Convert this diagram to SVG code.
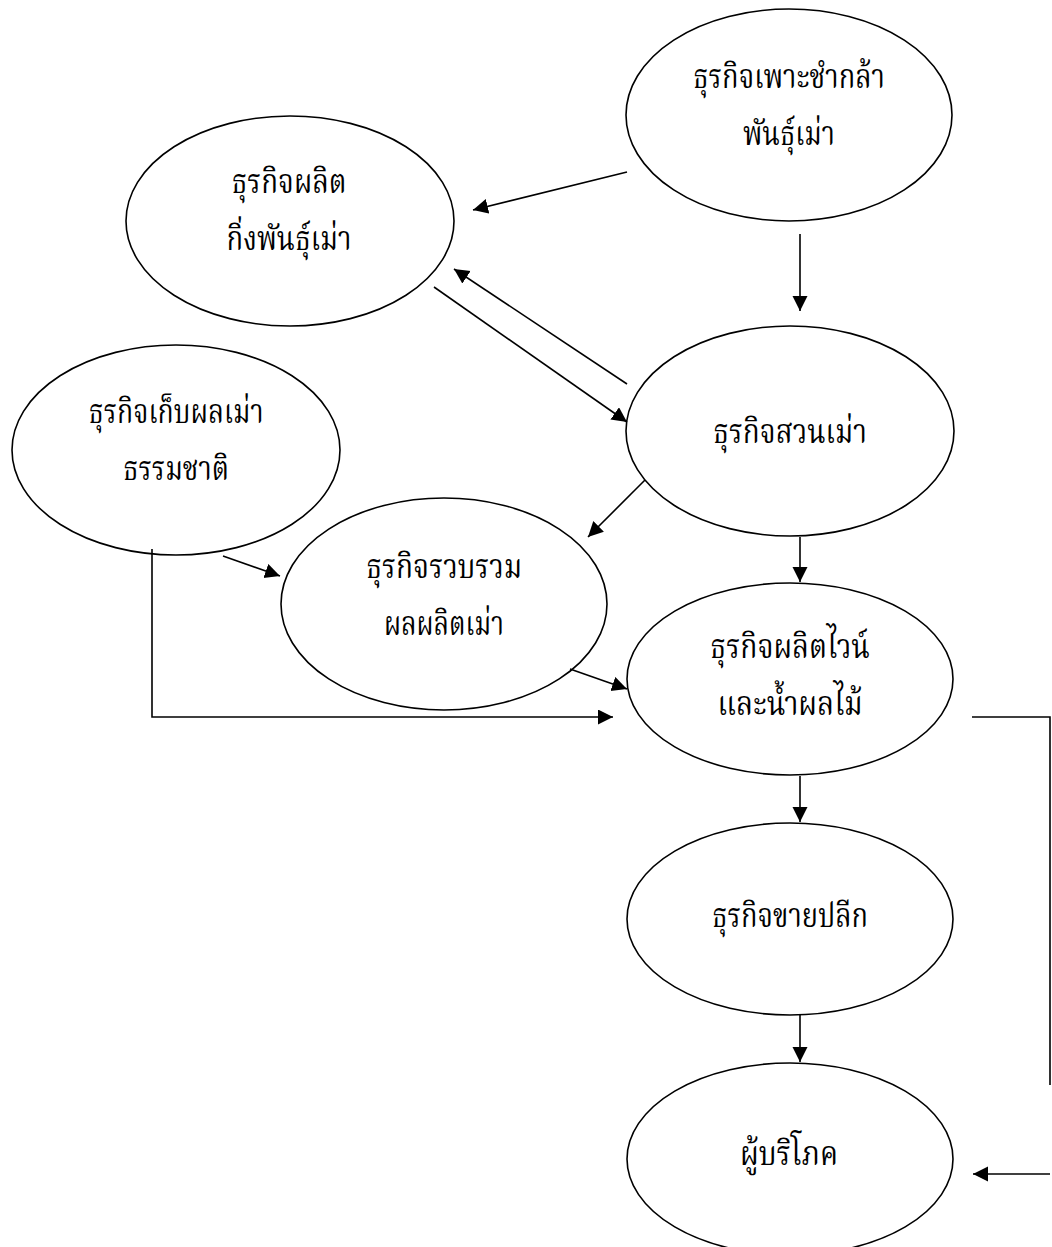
<svg xmlns="http://www.w3.org/2000/svg" width="1052" height="1247" viewBox="0 0 1052 1247">
<style>
.n{fill:#fff;stroke:#000;stroke-width:1.6}
.t{font-family:"Noto Serif Thai","Liberation Serif","DejaVu Serif",serif;font-size:33px;fill:#000;text-anchor:middle}
.c{fill:none;stroke:#000;stroke-width:1.6}
</style>
<defs>
<marker id="ah" markerUnits="userSpaceOnUse" markerWidth="16" markerHeight="16" refX="15" refY="7.5" orient="auto">
<path d="M0,0 L15,7.5 L0,15 z" fill="#000"/>
</marker>
</defs>
<rect width="1052" height="1247" fill="#fff"/>
<g id="n1"><ellipse class="n" cx="789" cy="115" rx="163" ry="106"/>
<text class="t" x="789" y="88" textLength="192" lengthAdjust="spacingAndGlyphs">ธุรกิจเพาะชำกล้า</text>
<text class="t" x="789" y="145" textLength="92" lengthAdjust="spacingAndGlyphs">พันธุ์เม่า</text></g>
<g id="n2"><ellipse class="n" cx="290" cy="221" rx="164" ry="105"/>
<text class="t" x="289" y="193" textLength="115" lengthAdjust="spacingAndGlyphs">ธุรกิจผลิต</text>
<text class="t" x="289" y="250" textLength="125" lengthAdjust="spacingAndGlyphs">กิ่งพันธุ์เม่า</text></g>
<g id="n3"><ellipse class="n" cx="790" cy="431" rx="164" ry="105"/>
<text class="t" x="790" y="443" textLength="154" lengthAdjust="spacingAndGlyphs">ธุรกิจสวนเม่า</text></g>
<g id="n4"><ellipse class="n" cx="176" cy="450" rx="164" ry="105"/>
<text class="t" x="176" y="423" textLength="175" lengthAdjust="spacingAndGlyphs">ธุรกิจเก็บผลเม่า</text>
<text class="t" x="176" y="480" textLength="106" lengthAdjust="spacingAndGlyphs">ธรรมชาติ</text></g>
<g id="n5"><ellipse class="n" cx="444" cy="604" rx="163" ry="106"/>
<text class="t" x="444" y="578" textLength="156" lengthAdjust="spacingAndGlyphs">ธุรกิจรวบรวม</text>
<text class="t" x="444" y="635" textLength="120" lengthAdjust="spacingAndGlyphs">ผลผลิตเม่า</text></g>
<g id="n6"><ellipse class="n" cx="790" cy="679" rx="163" ry="96"/>
<text class="t" x="790" y="658" textLength="160" lengthAdjust="spacingAndGlyphs">ธุรกิจผลิตไวน์</text>
<text class="t" x="790" y="715" textLength="145" lengthAdjust="spacingAndGlyphs">และน้ำผลไม้</text></g>
<g id="n7"><ellipse class="n" cx="790" cy="919" rx="163" ry="96"/>
<text class="t" x="790" y="927" textLength="156" lengthAdjust="spacingAndGlyphs">ธุรกิจขายปลีก</text></g>
<g id="n8"><ellipse class="n" cx="790" cy="1159" rx="163" ry="96"/>
<text class="t" x="789" y="1165" textLength="98" lengthAdjust="spacingAndGlyphs">ผู้บริโภค</text></g>
<g id="connectors">
<path class="c" d="M627,172 L473,210" marker-end="url(#ah)"/>
<path class="c" d="M800,234 L800,311" marker-end="url(#ah)"/>
<path class="c" d="M627,384 L454,269" marker-end="url(#ah)"/>
<path class="c" d="M434,287 L627,422" marker-end="url(#ah)"/>
<path class="c" d="M645,480 L588,537" marker-end="url(#ah)"/>
<path class="c" d="M800,537 L800,582" marker-end="url(#ah)"/>
<path class="c" d="M223,556 L280,576" marker-end="url(#ah)"/>
<path class="c" d="M152,549 L152,717 L613,717" marker-end="url(#ah)"/>
<path class="c" d="M570,669 L627,689" marker-end="url(#ah)"/>
<path class="c" d="M800,776 L800,822" marker-end="url(#ah)"/>
<path class="c" d="M800,1015 L800,1062" marker-end="url(#ah)"/>
<path class="c" d="M972,717 L1050,717 L1050,1085"/>
<path class="c" d="M1050,1174 L973,1174" marker-end="url(#ah)"/>
</g>
</svg>
